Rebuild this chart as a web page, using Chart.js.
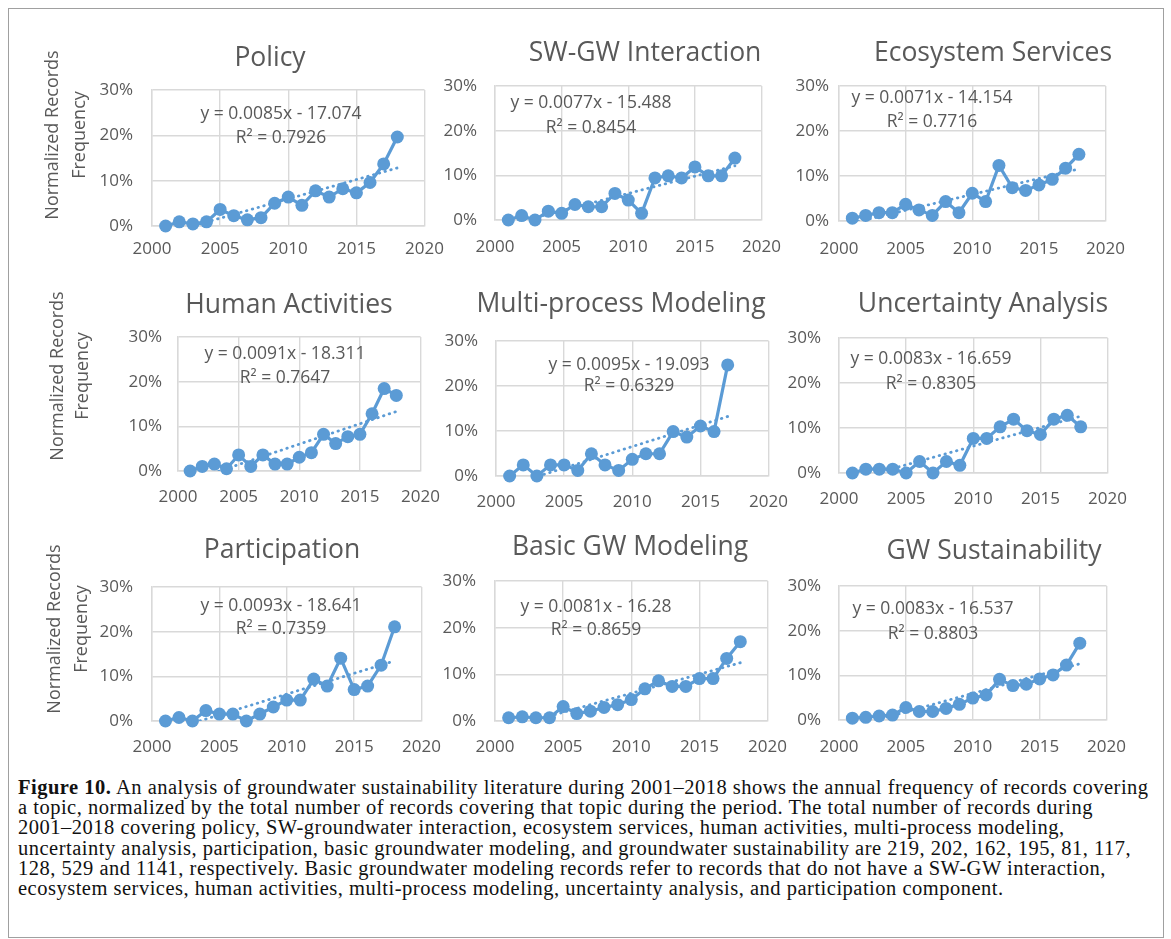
<!DOCTYPE html>
<html><head><meta charset="utf-8">
<script src="https://cdn.jsdelivr.net/npm/chart.js@4.4.1/dist/chart.umd.min.js"></script>
<style>
html,body{margin:0;padding:0;background:#fff;}
#page{position:relative;width:1171px;height:939px;overflow:hidden;background:#fff;}
#frame{position:absolute;left:8px;top:8px;width:1154px;height:928px;border:1px solid #a0a0a0;}
.panel{position:absolute;}
#caption{position:absolute;left:18px;top:777px;font-family:'Liberation Serif','Times New Roman',serif;font-size:20.5px;letter-spacing:0.5px;line-height:20.2px;color:#111;white-space:nowrap;}
</style></head><body>
<div id="page"><div id="frame"></div>
<div id="caption"><b>Figure 10.</b> An analysis of groundwater sustainability literature during 2001–2018 shows the annual frequency of records covering<br>a topic, normalized by the total number of records covering that topic during the period. The total number of records during<br>2001–2018 covering policy, SW-groundwater interaction, ecosystem services, human activities, multi-process modeling,<br>uncertainty analysis, participation, basic groundwater modeling, and groundwater sustainability are 219, 202, 162, 195, 81, 117,<br>128, 529 and 1141, respectively. Basic groundwater modeling records refer to records that do not have a SW-GW interaction,<br>ecosystem services, human activities, multi-process modeling, uncertainty analysis, and participation component.</div>
</div>
<script>
// ---- data (percent of records per year) ----
const years = [2001, 2002, 2003, 2004, 2005, 2006, 2007, 2008, 2009, 2010, 2011, 2012, 2013, 2014, 2015, 2016, 2017, 2018];
const yearsMulti = [2001, 2002, 2003, 2004, 2005, 2006, 2007, 2008, 2009, 2010, 2011, 2012, 2013, 2014, 2015, 2016, 2017];
const policy = [0, 0.91, 0.46, 0.91, 3.65, 2.28, 1.37, 1.83, 5.02, 6.39, 4.57, 7.76, 6.39, 8.22, 7.31, 9.59, 13.70, 19.63];
const swgwInteraction = [0, 0.99, 0, 1.98, 1.49, 3.47, 2.97, 2.97, 5.94, 4.46, 1.49, 9.41, 9.90, 9.41, 11.88, 9.90, 9.90, 13.86];
const ecosystemServices = [0.62, 1.23, 1.85, 1.85, 3.70, 2.47, 1.23, 4.32, 1.85, 6.17, 4.32, 12.35, 7.41, 6.79, 8.02, 9.26, 11.73, 14.81];
const humanActivities = [0, 1.03, 1.54, 0.51, 3.59, 1.03, 3.59, 1.54, 1.54, 3.08, 4.10, 8.21, 6.15, 7.69, 8.21, 12.82, 18.46, 16.92];
const multiProcess = [0, 2.47, 0, 2.47, 2.47, 1.23, 4.94, 2.47, 1.23, 3.70, 4.94, 4.94, 9.88, 8.64, 11.11, 9.88, 24.69];
const uncertainty = [0, 0.85, 0.85, 0.85, 0, 2.56, 0, 2.56, 1.71, 7.69, 7.69, 10.26, 11.97, 9.40, 8.55, 11.97, 12.82, 10.26];
const participation = [0, 0.78, 0, 2.34, 1.56, 1.56, 0, 1.56, 3.13, 4.69, 4.69, 9.38, 7.81, 14.06, 7.03, 7.81, 12.50, 21.09];
const basicGW = [0.7, 0.9, 0.7, 0.7, 3.1, 1.6, 2.1, 2.9, 3.5, 4.6, 6.9, 8.6, 7.4, 7.4, 9.1, 9.1, 13.4, 17.0];
const gwSustainability = [0.4, 0.6, 0.9, 1.1, 2.8, 1.9, 1.9, 2.6, 3.5, 4.9, 5.6, 9.1, 7.7, 8.0, 9.2, 10.1, 12.3, 17.2];

const xTicks = [2000, 2005, 2010, 2015, 2020];
const yTicks = [0, 10, 20, 30];
const titles = ['Policy', 'SW-GW Interaction', 'Ecosystem Services', 'Human Activities', 'Multi-process Modeling', 'Uncertainty Analysis', 'Participation', 'Basic GW Modeling', 'GW Sustainability'];
const equations = ['y = 0.0085x - 17.074', 'y = 0.0077x - 15.488', 'y = 0.0071x - 14.154', 'y = 0.0091x - 18.311', 'y = 0.0095x - 19.093', 'y = 0.0083x - 16.659', 'y = 0.0093x - 18.641', 'y = 0.0081x - 16.28', 'y = 0.0083x - 16.537'];
const rSquared = ['R² = 0.7926', 'R² = 0.8454', 'R² = 0.7716', 'R² = 0.7647', 'R² = 0.6329', 'R² = 0.8305', 'R² = 0.7359', 'R² = 0.8659', 'R² = 0.8803'];
const yAxisTitle = ['Normalized Records', 'Frequency'];

// ---- layout ----
const BLUE = '#5b9bd5';
const GREY = '#595959';
const GRID = '#d9d9d9';
const FONT = "'Open Sans', 'Liberation Sans', sans-serif";
const TOP = 85, XH = 40, RP = 30;

const panels = [
  {xs: years, ys: policy, l:152, t:90, r:427, b:226, ypad:19, xpad:13, tt:{x:270, y:66}, eq:{x:281, y1:119, y2:143}, yt:{x1:53, x2:80, y:135}},
  {xs: years, ys: swgwInteraction, l:495, t:86, r:768, b:220, ypad:18, xpad:17, tt:{x:645, y:61}, eq:{x:591, y1:108, y2:133}},
  {xs: years, ys: ecosystemServices, l:839, t:86, r:1113, b:221, ypad:10, xpad:18, tt:{x:993, y:61}, eq:{x:932, y1:103, y2:127}},
  {xs: years, ys: humanActivities, l:178, t:337, r:426, b:471, ypad:16, xpad:16, tt:{x:289, y:313}, eq:{x:285, y1:359, y2:383}, yt:{x1:58, x2:83, y:376}},
  {xs: yearsMulti, ys: multiProcess, l:496, t:341, r:774, b:476, ypad:18, xpad:16, tt:{x:621, y:312}, eq:{x:629, y1:370, y2:391}},
  {xs: years, ys: uncertainty, l:839, t:338, r:1113, b:473, ypad:18, xpad:16, tt:{x:983, y:312}, eq:{x:931, y1:364, y2:389}},
  {xs: years, ys: participation, l:152, t:587, r:427, b:721, ypad:19, xpad:16, tt:{x:282, y:558}, eq:{x:281, y1:611, y2:634}, yt:{x1:55, x2:82, y:629}},
  {xs: years, ys: basicGW, l:495, t:581, r:773, b:721, ypad:19, xpad:16, tt:{x:630, y:555}, eq:{x:596, y1:612, y2:635}},
  {xs: years, ys: gwSustainability, l:839, t:586, r:1113, b:720, ypad:18, xpad:17, tt:{x:994, y:559}, eq:{x:933, y1:614, y2:639}}
];

function trend(xs, ys) {
  const n = xs.length;
  let sx = 0, sy = 0, sxx = 0, sxy = 0;
  for (let i = 0; i < n; i++) { sx += xs[i]; sy += ys[i]; sxx += xs[i]*xs[i]; sxy += xs[i]*ys[i]; }
  const m = (n*sxy - sx*sy) / (n*sxx - sx*sx);
  const c = (sy - m*sx) / n;
  return [{x: xs[0], y: m*xs[0] + c}, {x: xs[n-1], y: m*xs[n-1] + c}];
}

const textPlugin = {
  id: 'panelText',
  afterDraw(chart, args, o) {
    const ctx = chart.ctx;
    ctx.save();
    ctx.fillStyle = GREY;
    ctx.textAlign = 'center';
    ctx.textBaseline = 'alphabetic';
    ctx.font = '26.5px ' + FONT;
    ctx.fillText(o.title, o.tt.x - o.ox, o.tt.y - o.oy);
    ctx.font = '17.5px ' + FONT;
    ctx.fillText(o.eqText, o.eq.x - o.ox, o.eq.y1 - o.oy);
    ctx.fillText(o.r2Text, o.eq.x - o.ox, o.eq.y2 - o.oy);
    if (o.yt) {
      ctx.font = '18px ' + FONT;
      ctx.textBaseline = 'middle';
      ctx.save();
      ctx.translate(o.yt.x1 - o.ox, o.yt.y - o.oy);
      ctx.rotate(-Math.PI/2);
      ctx.fillText(yAxisTitle[0], 0, 0);
      ctx.restore();
      ctx.save();
      ctx.translate(o.yt.x2 - o.ox, o.yt.y - o.oy);
      ctx.rotate(-Math.PI/2);
      ctx.fillText(yAxisTitle[1], 0, 0);
      ctx.restore();
    }
    ctx.restore();
  }
};

const page = document.getElementById('page');
panels.forEach((p, i) => {
  const YW = p.yt ? p.l : 60;
  const ox = p.l - YW, oy = p.t - TOP;
  const W = (p.r - p.l) + YW + RP, H = (p.b - p.t) + TOP + XH;
  const div = document.createElement('div');
  div.className = 'panel';
  div.style.left = ox + 'px'; div.style.top = oy + 'px';
  div.style.width = W + 'px'; div.style.height = H + 'px';
  const cv = document.createElement('canvas');
  cv.width = W; cv.height = H;
  cv.style.width = W + 'px'; cv.style.height = H + 'px';
  div.appendChild(cv);
  page.appendChild(div);

  const pts = p.xs.map((x, k) => ({x: x, y: p.ys[k]}));
  new Chart(cv, {
    type: 'line',
    data: {
      datasets: [
        {data: pts, borderColor: BLUE, backgroundColor: BLUE, borderWidth: 3.2, pointRadius: 6.5, pointBorderWidth: 0, pointBackgroundColor: BLUE, tension: 0, clip: false, order: 1},
        {data: trend(p.xs, p.ys), borderColor: BLUE, borderWidth: 2.8, borderDash: [0.5, 5.5], borderCapStyle: 'round', pointRadius: 0, tension: 0, clip: 0, order: 2}
      ]
    },
    options: {
      responsive: false,
      animation: false,
      events: [],
      layout: {padding: {left: 0, top: TOP, right: RP, bottom: 0}},
      plugins: {
        legend: {display: false},
        tooltip: {enabled: false},
        title: {display: false},
        panelText: {title: titles[i], eqText: equations[i], r2Text: rSquared[i], tt: p.tt, eq: p.eq, yt: p.yt, ox: ox, oy: oy}
      },
      scales: {
        x: {
          type: 'linear', min: xTicks[0], max: xTicks[xTicks.length-1],
          afterFit: s => { s.height = XH; },
          afterBuildTicks: s => { s.ticks = xTicks.map(v => ({value: v})); },
          grid: {color: GRID, lineWidth: 1.4, drawTicks: false},
          border: {display: true, color: GRID, width: 1.4},
          ticks: {padding: p.xpad, color: GREY, font: {family: FONT, size: 17}, maxRotation: 0, autoSkip: false, callback: v => String(v)}
        },
        y: {
          min: yTicks[0], max: yTicks[yTicks.length-1],
          afterFit: s => { s.width = YW; },
          afterBuildTicks: s => { s.ticks = yTicks.map(v => ({value: v})); },
          grid: {color: GRID, lineWidth: 1.4, drawTicks: false},
          border: {display: true, color: GRID, width: 1.4},
          ticks: {padding: p.ypad, color: GREY, font: {family: FONT, size: 17}, callback: v => v + '%'}
        }
      }
    },
    plugins: [textPlugin]
  });
});
</script>
</body></html>
